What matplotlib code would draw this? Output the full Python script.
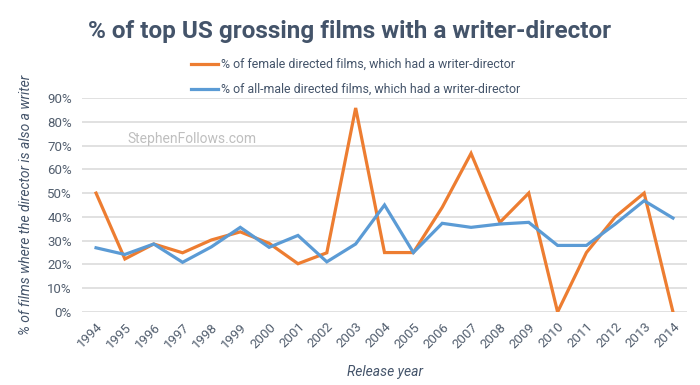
import matplotlib.pyplot as plt
from matplotlib.ticker import FuncFormatter

# data
years = list(range(1994, 2015))
female_pct = [50, 22.3, 28.6, 24.9, 30.3, 33.7, 28.9, 20.3, 24.9, 85.8, 25,
              25, 44, 66.7, 37.7, 50, 0, 25, 40, 50, 0]
male_pct = [27, 24.2, 28.6, 20.9, 27.4, 35.6, 27.2, 32.2, 21.1, 28.6, 45,
            25, 37.3, 35.6, 37, 37.7, 28, 28, 37, 46.8, 39.5]
y_ticks = [0, 10, 20, 30, 40, 50, 60, 70, 80, 90]

title = "% of top US grossing films with a writer-director"
female_label = "% of female directed films, which had a writer-director"
male_label = "% of all-male directed films, which had a writer-director"

orange = "#ED7D31"
blue = "#5B9BD5"
text_dark = "#44546A"
tick_grey = "#525E6E"

plt.rcParams['font.family'] = ['Roboto', 'DejaVu Sans']

fig = plt.figure(figsize=(7, 3.85), dpi=100)
ax = fig.add_axes([0.1166, 0.1896, 0.982 - 0.1166, 0.7455 - 0.1896])

x = list(range(len(years)))
ax.plot(x, female_pct, color=orange, lw=2.3, label=female_label,
        solid_joinstyle='miter', zorder=3)
ax.plot(x, male_pct, color=blue, lw=2.3, label=male_label,
        solid_joinstyle='miter', zorder=4)

ax.set_xlim(-0.5, len(years) - 0.5)
ax.set_ylim(0, 90)
ax.set_yticks(y_ticks)
ax.yaxis.set_major_formatter(FuncFormatter(lambda v, p: f"{v:.0f}%"))
ax.set_xticks(x)
ax.set_xticklabels([str(y) for y in years], rotation=45, ha='right',
                   rotation_mode='anchor')
ax.tick_params(axis='both', length=0, labelsize=9.5, colors=tick_grey)
ax.tick_params(axis='x', pad=6)
ax.tick_params(axis='y', pad=7)

ax.grid(axis='y', color='#D9D9D9', lw=1.1)
ax.set_axisbelow(True)
for s in ax.spines.values():
    s.set_visible(False)

ax.set_xlabel("Release year", fontsize=10, style='italic', color=text_dark,
              labelpad=10)
ax.set_ylabel("% of films where the director is also a writer", fontsize=10,
              style='italic', color=text_dark, labelpad=10)

ax.text(0.075, 0.81, "StephenFollows.com", transform=ax.transAxes,
        fontsize=10, color='#BFBFBF', ha='left', va='center')

fig.text(0.5, 0.918, title, ha='center', va='center', fontsize=17.5,
         fontweight='bold', color=text_dark)

fig.legend(loc='center', bbox_to_anchor=(0.508, 0.8), frameon=False,
           fontsize=8.9, labelcolor=text_dark, handlelength=2.2,
           handletextpad=0.2, labelspacing=0.95)

fig.savefig("out.png", dpi=100)
